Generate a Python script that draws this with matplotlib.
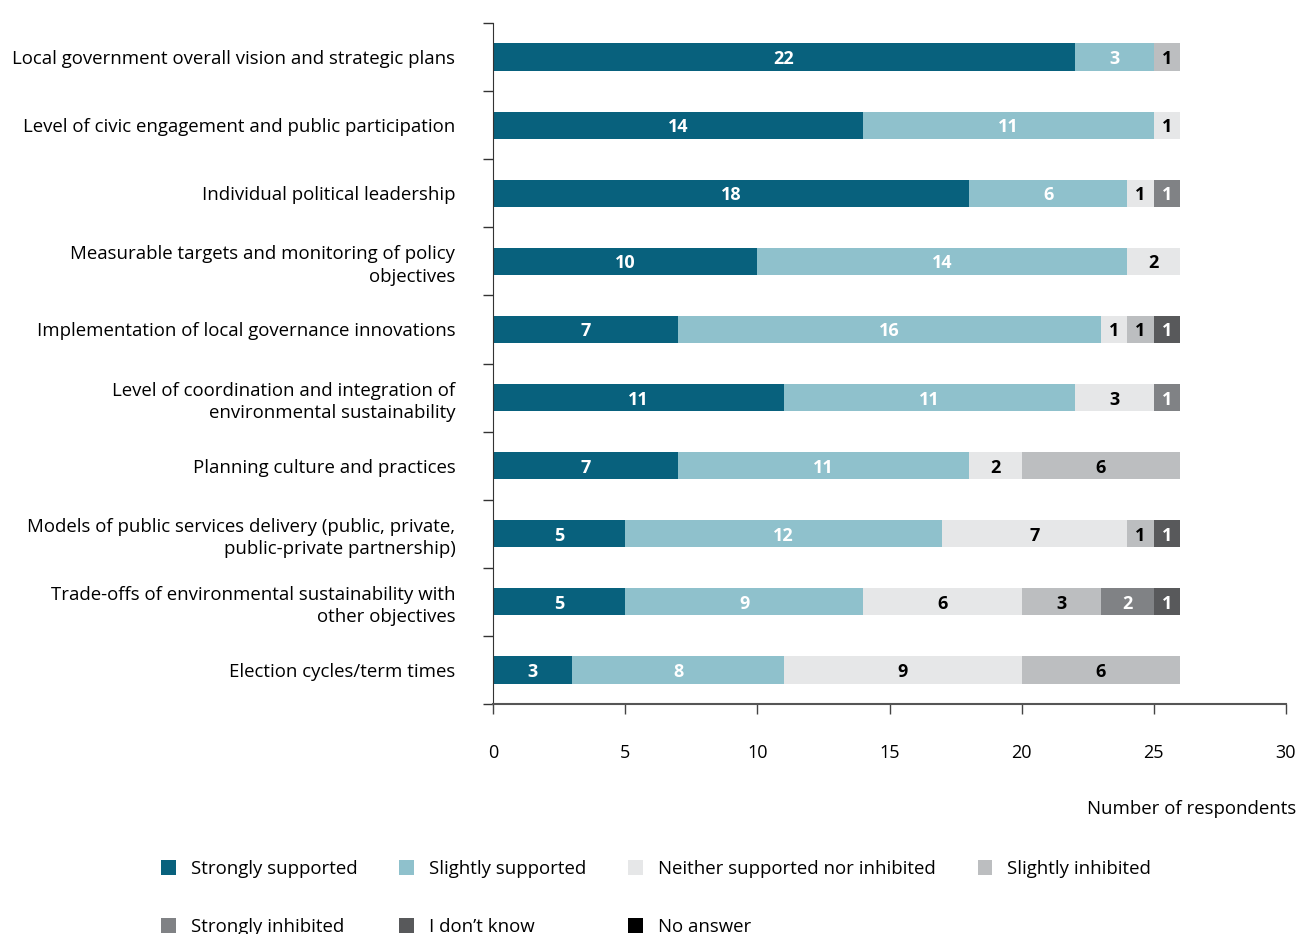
import numpy as np
import matplotlib.pyplot as plt
from matplotlib.patches import Patch

plt.rcParams['font.family'] = ['Open Sans', 'DejaVu Sans']

categories = [
    "Local government overall vision and strategic plans",
    "Level of civic engagement and public participation",
    "Individual political leadership",
    "Measurable targets and monitoring of policy\nobjectives",
    "Implementation of local governance innovations",
    "Level of coordination and integration of\nenvironmental sustainability",
    "Planning culture and practices",
    "Models of public services delivery (public, private,\npublic-private partnership)",
    "Trade-offs of environmental sustainability with\nother objectives",
    "Election cycles/term times",
]

series_names = ["Strongly supported", "Slightly supported", "Neither supported nor inhibited",
                "Slightly inhibited", "Strongly inhibited", "I don\u2019t know", "No answer"]

strongly_supported = [22, 14, 18, 10, 7, 11, 7, 5, 5, 3]
slightly_supported = [3, 11, 6, 14, 16, 11, 11, 12, 9, 8]
neither = [0, 1, 1, 2, 1, 3, 2, 7, 6, 9]
slightly_inhibited = [1, 0, 0, 0, 1, 0, 6, 1, 3, 6]
strongly_inhibited = [0, 0, 1, 0, 0, 1, 0, 0, 2, 0]
dont_know = [0, 0, 0, 0, 1, 0, 0, 1, 1, 0]
no_answer = [0, 0, 0, 0, 0, 0, 0, 0, 0, 0]

series = [strongly_supported, slightly_supported, neither, slightly_inhibited,
          strongly_inhibited, dont_know, no_answer]
colors = ['#08617d', '#8fc1cc', '#e6e7e8', '#bcbec0', '#808285', '#58595b', '#000000']
text_colors = ['white', 'white', 'black', 'black', 'white', 'white', 'white']

fig = plt.figure(figsize=(12.98, 9.34), dpi=100)
ax = fig.add_axes([493 / 1298, 1 - 704 / 934, (1286 - 493) / 1298, (704 - 23) / 934])

y = np.arange(len(categories))
left = np.zeros(len(categories))
for vals, col, tc in zip(series, colors, text_colors):
    vals = np.array(vals, dtype=float)
    ax.barh(y, vals, left=left, height=0.4, color=col)
    for yi, (l, v) in enumerate(zip(left, vals)):
        if v > 0:
            ax.text(l + v / 2, yi, str(int(v)), ha='center', va='center_baseline',
                    color=tc, fontsize=13, fontweight='bold')
    left += vals

ax.set_xlim(0, 30)
ax.set_ylim(len(categories) - 0.5, -0.5)
ax.set_xticks(range(0, 31, 5))
ax.tick_params(axis='x', direction='out', length=7, width=1, color='#444444',
               pad=22, labelsize=13)
ax.set_yticks(y)
ax.set_yticklabels(categories, fontsize=13.4, linespacing=1.3)
ax.tick_params(axis='y', which='major', length=0, pad=27)
ax.set_yticks(np.arange(-0.5, len(categories), 1), minor=True)
ax.tick_params(axis='y', which='minor', length=7, width=1, color='#333333')

for s in ['top', 'right']:
    ax.spines[s].set_visible(False)
ax.spines['left'].set_color('#333333')
ax.spines['bottom'].set_color('#555555')
ax.spines['bottom'].set_linewidth(1.5)

fig.text(1296 / 1298, 1 - 809 / 934, "Number of respondents", ha='right', va='center', fontsize=13.4)

# legend filled column by column, so reorder to read row by row
order = [0, 4, 1, 5, 2, 6, 3]
handles = [Patch(facecolor=colors[i], edgecolor='none') for i in order]
labels = [series_names[i] for i in order]
fig.legend(handles, labels, loc='upper left', bbox_to_anchor=(161 / 1298, 1 - 860 / 934),
           ncol=4, frameon=False, fontsize=13.4, handlelength=0.8, handleheight=0.8,
           handletextpad=0.8, columnspacing=2.25, labelspacing=2.15, borderpad=0,
           borderaxespad=0)

fig.savefig('out.png', dpi=100)
